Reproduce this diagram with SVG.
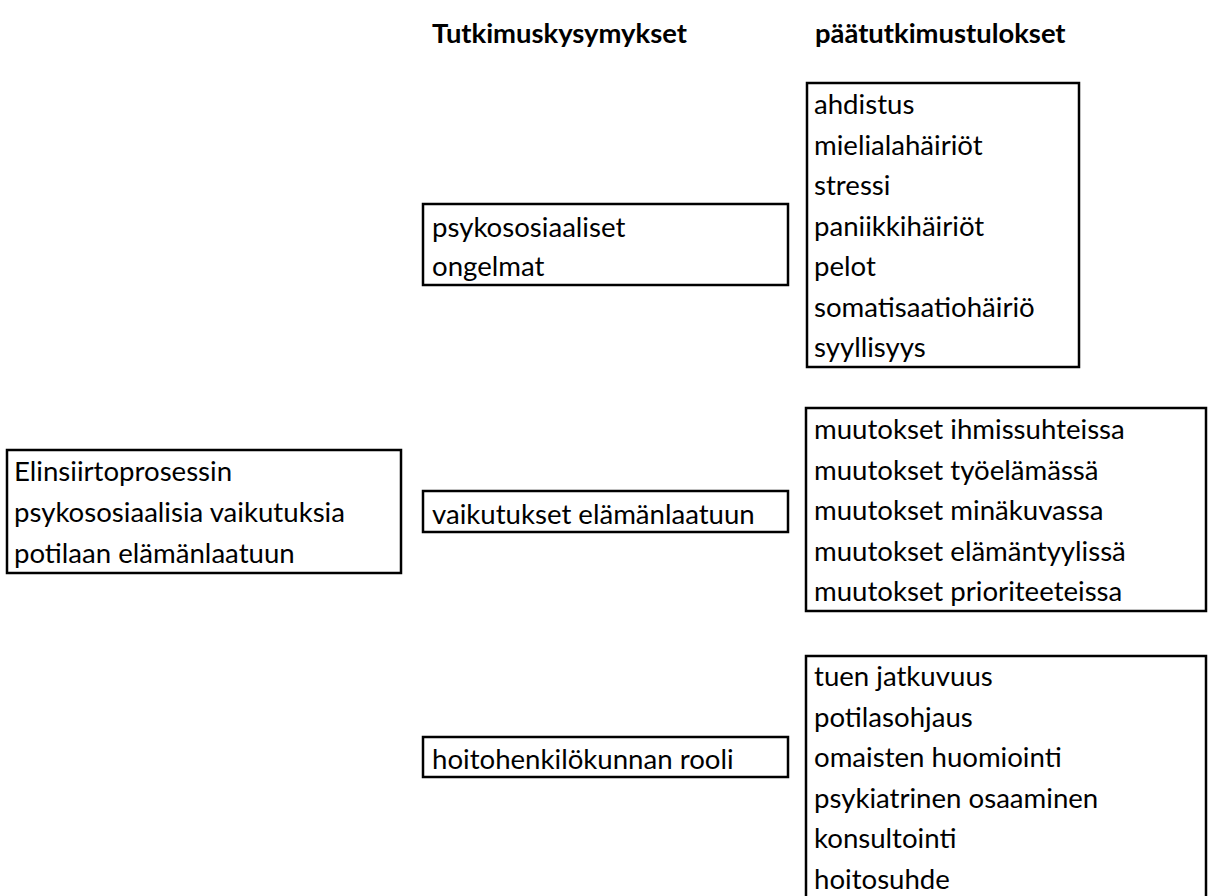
<svg xmlns="http://www.w3.org/2000/svg" width="1215" height="896" viewBox="0 0 1215 896">
<style>
.box{fill:#fff;stroke:#000;stroke-width:2.5}
.t{font-family:Lato,"Open Sans","Liberation Sans",sans-serif;font-size:27.6px;fill:#000}
.h{font-family:Lato,"Open Sans","Liberation Sans",sans-serif;font-size:27.4px;font-weight:bold;fill:#000}
</style>
<rect width="1215" height="896" fill="#fff"/>
<g id="headers">
<text class="h" x="432" y="43">Tutkimuskysymykset</text>
<text class="h" x="815" y="43">päätutkimustulokset</text>
</g>
<g id="main">
<rect class="box" x="7" y="450" width="394" height="123"/>
<text class="t" x="14" y="481">Elinsiirtoprosessin</text>
<text class="t" x="14" y="522">psykososiaalisia vaikutuksia</text>
<text class="t" x="14" y="563">potilaan elämänlaatuun</text>
</g>
<g id="q1">
<rect class="box" x="423" y="204" width="365" height="81"/>
<text class="t" x="432" y="237">psykososiaaliset</text>
<text class="t" x="432" y="276">ongelmat</text>
</g>
<g id="q2">
<rect class="box" x="423" y="491" width="365" height="41"/>
<text class="t" x="432" y="524">vaikutukset elämänlaatuun</text>
</g>
<g id="q3">
<rect class="box" x="423" y="737" width="365" height="40"/>
<text class="t" x="432" y="769">hoitohenkilökunnan rooli</text>
</g>
<g id="r1">
<rect class="box" x="807" y="83" width="272" height="284"/>
<text class="t" x="814" y="114">ahdistus</text>
<text class="t" x="814" y="154.5">mielialahäiriöt</text>
<text class="t" x="814" y="195">stressi</text>
<text class="t" x="814" y="235.5">paniikkihäiriöt</text>
<text class="t" x="814" y="276">pelot</text>
<text class="t" x="814" y="316.5">somatisaatiohäiriö</text>
<text class="t" x="814" y="357">syyllisyys</text>
</g>
<g id="r2">
<rect class="box" x="806" y="408" width="400" height="203"/>
<text class="t" x="814" y="439">muutokset ihmissuhteissa</text>
<text class="t" x="814" y="479.5">muutokset työelämässä</text>
<text class="t" x="814" y="520">muutokset minäkuvassa</text>
<text class="t" x="814" y="560.5">muutokset elämäntyylissä</text>
<text class="t" x="814" y="601">muutokset prioriteeteissa</text>
</g>
<g id="r3">
<rect class="box" x="806" y="656" width="400" height="260"/>
<text class="t" x="814" y="686">tuen jatkuvuus</text>
<text class="t" x="814" y="726.5">potilasohjaus</text>
<text class="t" x="814" y="767">omaisten huomiointi</text>
<text class="t" x="814" y="807.5">psykiatrinen osaaminen</text>
<text class="t" x="814" y="848">konsultointi</text>
<text class="t" x="814" y="888.5">hoitosuhde</text>
</g>
<g id="connectors"></g>
</svg>
